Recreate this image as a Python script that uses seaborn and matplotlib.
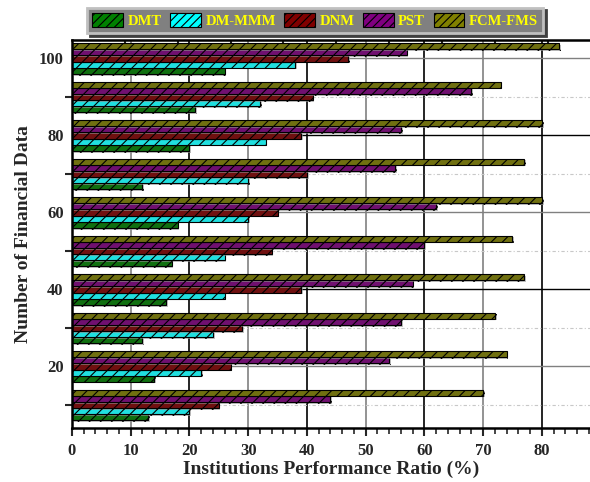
import numpy as np
import pandas as pd
import matplotlib
matplotlib.use("Agg")
import matplotlib.pyplot as plt
import matplotlib.patheffects as pe
from matplotlib.patches import Patch
import seaborn as sns

# Number of financial data records in each group
data_sizes = [10, 20, 30, 40, 50, 60, 70, 80, 90, 100]

# Institutions performance ratio (%) per method
dmt = [13, 14, 12, 16, 17, 18, 12, 20, 21, 26]
dm_mmm = [20, 22, 24, 26, 26, 30, 30, 33, 32, 38]
dnm = [25, 27, 29, 39, 34, 35, 40, 39, 41, 47]
pst = [44, 54, 56, 58, 60, 62, 55, 56, 68, 57]
fcm_fms = [70, 74, 72, 77, 75, 80, 77, 80, 73, 83]

methods = ["DMT", "DM-MMM", "DNM", "PST", "FCM-FMS"]
colors = ["#008000", "#00FFFF", "#800000", "#800080", "#808000"]

series = {"DMT": dmt, "DM-MMM": dm_mmm, "DNM": dnm, "PST": pst, "FCM-FMS": fcm_fms}
df = pd.DataFrame(
    [(n, m, v) for m in methods for n, v in zip(data_sizes, series[m])],
    columns=["size", "method", "ratio"],
)

sns.set_theme(style="white")
plt.rcParams["font.family"] = ["Liberation Serif", "DejaVu Serif"]
plt.rcParams["font.weight"] = "bold"
plt.rcParams["hatch.linewidth"] = 0.8
plt.rcParams["hatch.color"] = "black"

fig = plt.figure(figsize=(5.9, 4.82), dpi=100)
ax = fig.add_axes([0.122, 0.112, 0.878, 0.805])

sns.barplot(
    data=df, x="ratio", y="size", hue="method", hue_order=methods,
    palette=colors, orient="h", native_scale=True, width=0.8,
    edgecolor="black", linewidth=0.8, legend=False, ax=ax,
)

shadow = [pe.SimplePatchShadow(offset=(1.2, -1.2), shadow_rgbFace="#9a9a9a", alpha=0.6), pe.Normal()]
for bar in ax.patches:
    bar.set_hatch("///")
    bar.set_path_effects(shadow)

ax.set_xlim(0, 88.2)
ax.set_ylim(4.0, 104.8)

# x axis: labelled ticks every 10, small ticks every 2
ax.set_xticks(np.arange(0, 81, 10))
ax.set_xticks(np.arange(0, 89, 2), minor=True)
ax.tick_params(axis="x", which="major", direction="out", length=6, width=1.5,
               labelsize=12, pad=5, bottom=True)
ax.tick_params(axis="x", which="minor", direction="out", length=4, width=1.2, bottom=True)

# y axis: labels at even tens, tick marks at odd tens
ax.set_yticks(np.arange(20, 101, 20))
ax.set_yticks(np.arange(10, 100, 20), minor=True)
ax.tick_params(axis="y", which="major", length=0, labelsize=12, pad=6)
ax.tick_params(axis="y", which="minor", direction="out", length=5, width=1.5, left=True)

for lbl in ax.get_xticklabels() + ax.get_yticklabels():
    lbl.set_fontweight("bold")

# grid behind the bars
ax.set_axisbelow(True)
ax.xaxis.grid(True, which="major", linewidth=1.2)
for i, gl in enumerate(ax.get_xgridlines()):
    gl.set_color("black" if i % 2 == 0 else "#808080")
ax.yaxis.grid(True, which="major", linewidth=1.0)
for i, gl in enumerate(ax.get_ygridlines()):
    gl.set_color("#808080" if i % 2 == 0 else "black")
ax.yaxis.grid(True, which="minor", color="#c8c8c8", linewidth=0.8, linestyle=(0, (3, 2, 1, 2)))

for side in ["left", "bottom", "top"]:
    ax.spines[side].set_color("black")
    ax.spines[side].set_linewidth(1.8)
ax.spines["right"].set_visible(False)

# inward ticks along the top edge
top = ax.secondary_xaxis("top")
top.set_xticks(np.arange(9, 88, 9))
top.tick_params(direction="in", length=5, width=1.5, labeltop=False)
top.spines["top"].set_visible(False)

ax.set_xlabel("Institutions Performance Ratio (%)", fontsize=14, fontweight="bold", labelpad=1)
ax.set_ylabel("Number of Financial Data", fontsize=14, fontweight="bold", labelpad=5)

handles = [Patch(facecolor=c, edgecolor="black", hatch="////", linewidth=0.8) for c in colors]
leg = fig.legend(
    handles, methods, loc="center", bbox_to_anchor=(0.534, 0.958), ncol=5,
    frameon=True, fancybox=False, fontsize=10.5, handlelength=2.1, handleheight=1.1,
    handletextpad=0.3, columnspacing=0.6, borderpad=0.35,
    shadow={"color": "#404040", "alpha": 1.0, "ox": 2, "oy": -2},
)
frame = leg.get_frame()
frame.set_facecolor("#808080")
frame.set_edgecolor("#c0c0c0")
frame.set_linewidth(2)
frame.set_alpha(1)
for t in leg.get_texts():
    t.set_color("#FFFF00")
    t.set_fontweight("bold")

fig.savefig("out.png", dpi=100)
